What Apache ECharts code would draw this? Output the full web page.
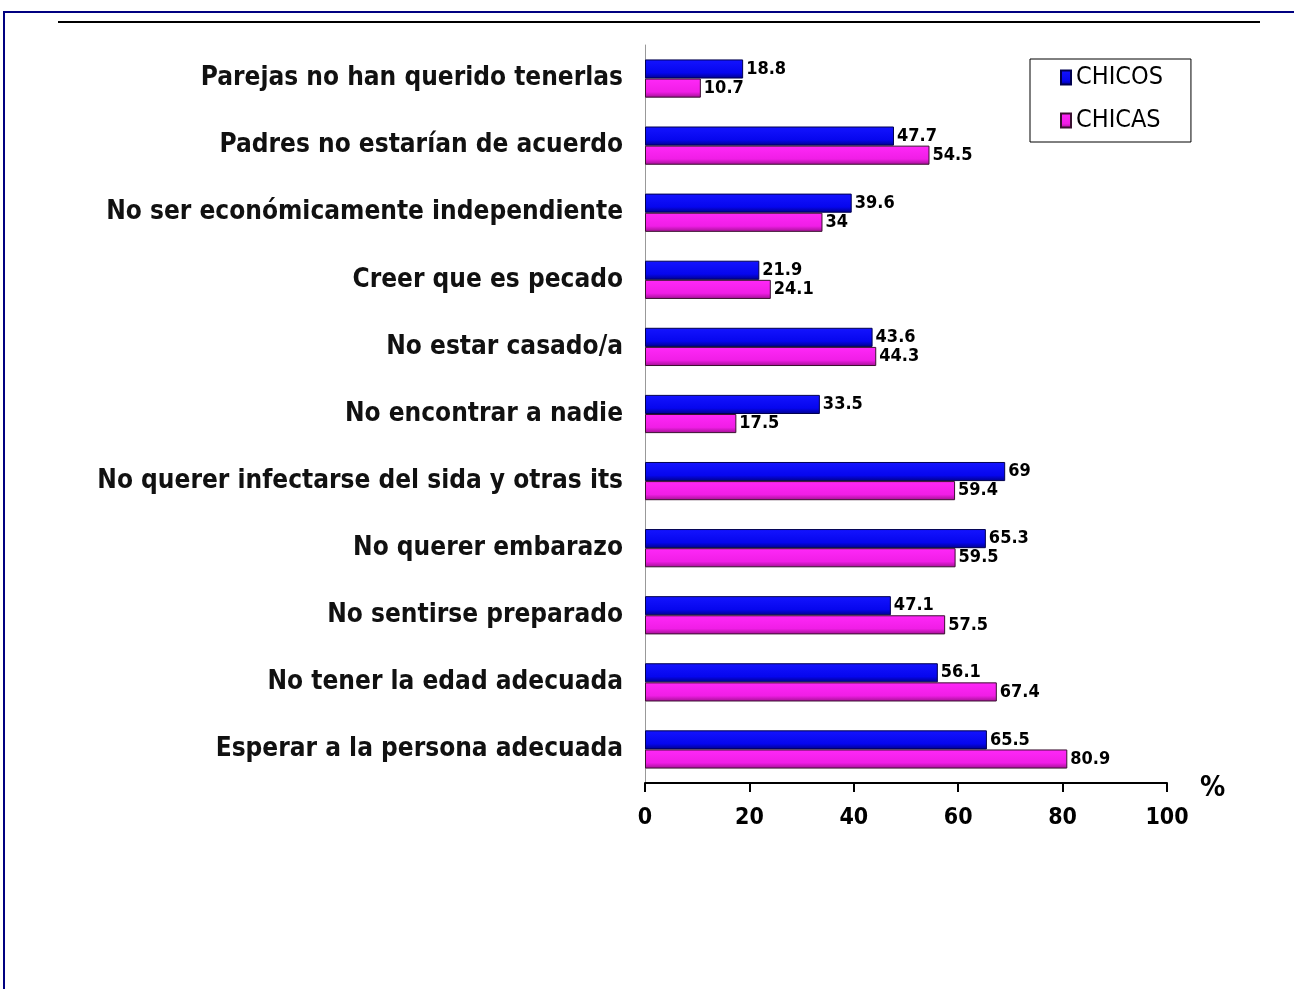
<!DOCTYPE html>
<html><head><meta charset="utf-8">
<script src="https://cdn.jsdelivr.net/npm/echarts@6/dist/echarts.min.js"></script>
<style>html,body{margin:0;padding:0;background:#fff}#c{width:1294px;height:989px}</style>
</head><body><div id="c"></div>
<script>
const categories = [
  'Parejas no han querido tenerlas',
  'Padres no estarían de acuerdo',
  'No ser económicamente independiente',
  'Creer que es pecado',
  'No estar casado/a',
  'No encontrar a nadie',
  'No querer infectarse del sida y otras its',
  'No querer embarazo',
  'No sentirse preparado',
  'No tener la edad adecuada',
  'Esperar a la persona adecuada'
];
const chicos = [18.8, 47.7, 39.6, 21.9, 43.6, 33.5, 69, 65.3, 47.1, 56.1, 65.5];
const chicas = [10.7, 54.5, 34, 24.1, 44.3, 17.5, 59.4, 59.5, 57.5, 67.4, 80.9];
const xTicks = [0, 20, 40, 60, 80, 100];

const chart = echarts.init(document.getElementById('c'));
const cond = '"DejaVu Sans Condensed", "Liberation Sans Narrow", sans-serif';
const lbl = {show: true, position: 'right', distance: 3, fontFamily: cond, fontWeight: 'bold', fontSize: 18, color: '#000'};
const grad = (a, b, c) => new echarts.graphic.LinearGradient(0, 0, 0, 1, [
  {offset: 0, color: a}, {offset: 0.7, color: b}, {offset: 1, color: c}]);
chart.setOption({
  backgroundColor: '#fff',
  animation: false,
  graphic: [
    {type: 'rect', shape: {x: 4, y: 12, width: 1400, height: 1100}, style: {fill: 'none', stroke: '#000080', lineWidth: 2}},
    {type: 'line', shape: {x1: 58, y1: 22, x2: 1260, y2: 22}, style: {stroke: '#000', lineWidth: 2}},
    {type: 'text', left: 1200, top: 775, style: {text: '%', font: 'bold 28px ' + cond, fill: '#000'}}
  ],
  legend: {
    orient: 'vertical', left: 1030, top: 59, width: 162,
    padding: [6, 28, 9, 30], itemGap: 18,
    borderColor: '#000', borderWidth: 1,
    icon: 'rect', itemWidth: 10, itemHeight: 14,
    textStyle: {fontFamily: cond, fontSize: 25, color: '#000'},
    data: ['CHICOS', 'CHICAS']
  },
  grid: {left: 645, right: 127, top: 45, bottom: 206, containLabel: false},
  xAxis: {
    type: 'value', min: 0, max: 100, interval: 20,
    axisLine: {show: true, lineStyle: {color: '#000', width: 2}},
    axisTick: {show: true, length: 9, inside: false, lineStyle: {color: '#000', width: 2}},
    splitLine: {show: false},
    axisLabel: {margin: 24, fontFamily: cond, fontWeight: 'bold', fontSize: 23, color: '#000',
      formatter: v => xTicks.includes(v) ? String(v) : ''}
  },
  yAxis: {
    type: 'category', inverse: true, data: categories,
    axisLine: {show: true, lineStyle: {color: '#999', width: 1}},
    axisTick: {show: false},
    axisLabel: {margin: 22, fontFamily: cond, fontWeight: 'bold', fontSize: 26, color: '#111'}
  },
  series: [
    {name: 'CHICOS', type: 'bar', data: chicos, barGap: '0%', barCategoryGap: '43%',
     itemStyle: {color: grad('#1414ff', '#0606ee', '#00008a'), borderColor: '#000050', borderWidth: 1}, label: lbl},
    {name: 'CHICAS', type: 'bar', data: chicas,
     itemStyle: {color: grad('#ff28f8', '#f01ee6', '#a01090'), borderColor: '#3a1030', borderWidth: 1}, label: lbl}
  ]
});
</script></body></html>
